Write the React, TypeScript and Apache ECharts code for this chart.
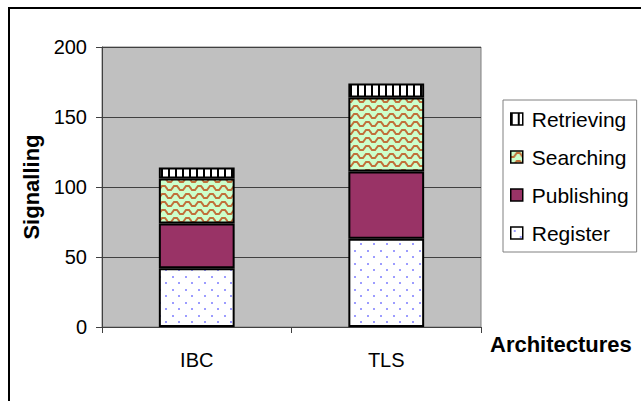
import React, { useEffect, useRef } from "react";
import * as echarts from "echarts";

const categories = ["IBC", "TLS"];
const register = [42, 63];
const publishing = [32, 48];
const searching = [32, 53];
const retrieving = [8, 10];
const yTicks = [0, 50, 100, 150, 200];

const FONT = "Liberation Sans, Arial, sans-serif";

function makeCanvas(w: number, h: number, draw: (g: CanvasRenderingContext2D) => void) {
  const c = document.createElement("canvas");
  c.width = w;
  c.height = h;
  const g = c.getContext("2d")!;
  draw(g);
  return c;
}

export default function App() {
  const ref = useRef<HTMLDivElement>(null);
  useEffect(() => {
    if (!ref.current) return;
    const chart = echarts.init(ref.current, undefined, { renderer: "svg" });

    const dots = makeCanvas(13, 13, (g) => {
      g.fillStyle = "#ffffff";
      g.fillRect(0, 0, 13, 13);
      g.fillStyle = "#9c9cff";
      g.fillRect(3, 3, 2, 2);
      g.fillRect(9, 9, 2, 2);
    });
    const wave = makeCanvas(12, 8, (g) => {
      g.fillStyle = "#ccffcc";
      g.fillRect(0, 0, 12, 8);
      g.strokeStyle = "#c0703a";
      g.lineWidth = 2;
      g.beginPath();
      g.moveTo(-3, 4);
      g.lineTo(0, 6);
      g.lineTo(3, 6);
      g.lineTo(6, 2);
      g.lineTo(9, 2);
      g.lineTo(12, 6);
      g.lineTo(15, 6);
      g.stroke();
    });
    const stripes = makeCanvas(7, 10, (g) => {
      g.fillStyle = "#ffffff";
      g.fillRect(0, 0, 7, 10);
      g.fillStyle = "#000000";
      g.fillRect(0, 0, 2, 10);
    });

    const border = { borderColor: "#000", borderWidth: 2 };
    const mk = (name: string, data: number[], color: any) => ({
      name,
      type: "bar",
      stack: "total",
      barWidth: "40%",
      data,
      itemStyle: { color, ...border },
      emphasis: { disabled: true },
    });

    chart.setOption({
      animation: false,
      backgroundColor: "#ffffff",
      grid: {
        left: 102,
        right: 160,
        top: 47,
        bottom: 74,
        show: true,
        backgroundColor: "#c0c0c0",
        borderColor: "#808080",
        borderWidth: 1,
      },
      legend: {
        orient: "vertical",
        left: 503,
        top: 100,
        padding: [8, 8, 8, 7],
        backgroundColor: "#ffffff",
        borderColor: "#808080",
        borderWidth: 1,
        icon: "rect",
        itemWidth: 12,
        itemHeight: 12,
        itemGap: 16,
        data: ["Retrieving", "Searching", "Publishing", "Register"],
        textStyle: { fontFamily: FONT, fontSize: 21, color: "#000", lineHeight: 22, padding: [0, 0, 0, 4] },
        itemStyle: { borderColor: "#000", borderWidth: 1.5 },
      },
      xAxis: {
        type: "category",
        data: categories,
        name: "Architectures",
        nameLocation: "end",
        nameGap: 9,
        nameTextStyle: {
          fontFamily: FONT,
          fontSize: 22,
          fontWeight: "bold",
          color: "#000",
          verticalAlign: "top",
          padding: [6, 0, 0, 0],
        },
        axisLine: { lineStyle: { color: "#404040", width: 1 } },
        axisTick: { show: true, length: 6, lineStyle: { color: "#404040" } },
        axisLabel: { fontFamily: FONT, fontSize: 20, color: "#000", margin: 23 },
      },
      yAxis: {
        type: "value",
        min: 0,
        max: 200,
        interval: 50,
        name: "Signalling",
        nameLocation: "middle",
        nameGap: 58,
        nameTextStyle: { fontFamily: FONT, fontSize: 22, fontWeight: "bold", color: "#000" },
        axisLine: { show: true, lineStyle: { color: "#404040", width: 1 } },
        axisTick: { show: true, length: 6, lineStyle: { color: "#404040" } },
        axisLabel: {
          fontFamily: FONT,
          fontSize: 20,
          color: "#000",
          margin: 15,
          formatter: (v: number) => (yTicks.includes(v) ? String(v) : ""),
        },
        splitLine: { show: true, lineStyle: { color: "#404040", width: 1 } },
      },
      graphic: [
        {
          type: "rect",
          shape: { x: 9, y: 8, width: 700, height: 500 },
          style: { fill: "none", stroke: "#000", lineWidth: 2 },
          z: 100,
        },
      ],
      series: [
        mk("Register", register, { image: dots, repeat: "repeat" }),
        mk("Publishing", publishing, "#993366"),
        mk("Searching", searching, { image: wave, repeat: "repeat" }),
        mk("Retrieving", retrieving, { image: stripes, repeat: "repeat" }),
      ],
    });
    return () => chart.dispose();
  }, []);
  return (
    <div
      ref={ref}
      style={{ position: "fixed", left: 0, top: 0, width: 641, height: 401 }}
    />
  );
}
